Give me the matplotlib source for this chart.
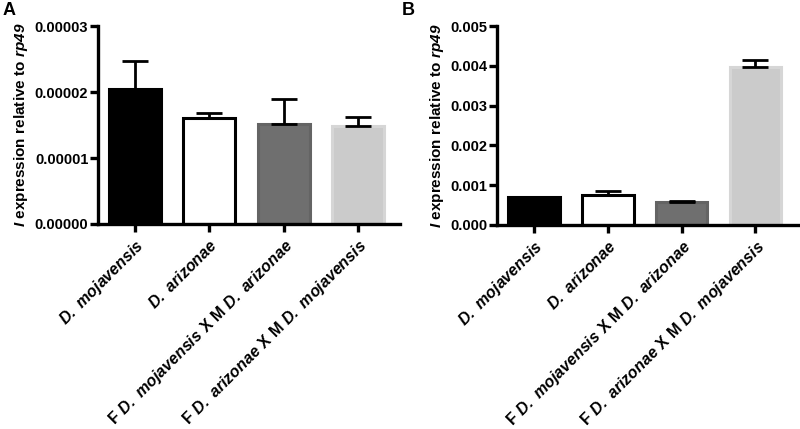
import matplotlib
matplotlib.use("Agg")
import matplotlib.pyplot as plt

plt.rcParams["font.family"] = ["Liberation Sans", "DejaVu Sans"]
plt.rcParams["font.weight"] = "bold"
plt.rcParams["mathtext.fontset"] = "custom"
plt.rcParams["mathtext.rm"] = "Liberation Sans:bold"
plt.rcParams["mathtext.bf"] = "Liberation Sans:bold"
plt.rcParams["mathtext.it"] = "Liberation Sans:bold:italic"
plt.rcParams["mathtext.bfit"] = "Liberation Sans:bold:italic"

# ---------------------------------------------------------------------------
# Data
# ---------------------------------------------------------------------------
categories = [
    r"$\mathbfit{D.\ mojavensis}$",
    r"$\mathbfit{D.\ arizonae}$",
    r"$\mathbf{F}\ \mathbfit{D.\ mojavensis}\ \mathbf{X\ M}\ \mathbfit{D.\ arizonae}$",
    r"$\mathbf{F}\ \mathbfit{D.\ arizonae}\ \mathbf{X\ M}\ \mathbfit{D.\ mojavensis}$",
]
vals_a = [2.045e-5, 1.60e-5, 1.51e-5, 1.49e-5]
err_a = [0.42e-5, 0.08e-5, 0.39e-5, 0.13e-5]
vals_b = [0.00069, 0.00074, 0.00057, 0.00396]
err_b = [0.0, 0.00012, 0.00002, 0.00020]

yticks_a = [0.0, 1e-5, 2e-5, 3e-5]
yticklabels_a = ["0.00000", "0.00001", "0.00002", "0.00003"]
yticks_b = [0.0, 0.001, 0.002, 0.003, 0.004, 0.005]
yticklabels_b = ["0.000", "0.001", "0.002", "0.003", "0.004", "0.005"]

face_colors = ["#000000", "#ffffff", "#6f6f6f", "#cbcbcb"]
edge_colors = ["#000000", "#000000", "#646464", "#d6d6d6"]
ylabel = r"$\mathbfit{I}\ \mathbf{expression\ relative\ to}\ \mathbfit{rp49}$"


def draw_panel(ax, vals, errs, yticks, yticklabels, ymax):
    x = list(range(len(vals)))
    ax.bar(x, vals, width=0.7, color=face_colors, edgecolor=edge_colors,
           linewidth=2.2, zorder=2)
    for xi, v, e in zip(x, vals, errs):
        if e > 0:
            ax.errorbar(xi, v, yerr=[[0], [e]], fmt="none", ecolor="black",
                        elinewidth=2.0, capsize=9.5, capthick=2.0, zorder=3)
    ax.set_xlim(-0.5, 3.57)
    ax.set_ylim(0, ymax)
    ax.set_yticks(yticks)
    ax.set_yticklabels(yticklabels, fontsize=10.5, fontweight="bold")
    ax.set_xticks(x)
    ax.set_xticklabels(categories, rotation=45, ha="right", rotation_mode="anchor",
                       fontsize=11.5)
    ax.spines["top"].set_visible(False)
    ax.spines["right"].set_visible(False)
    ax.spines["left"].set_linewidth(2.4)
    ax.spines["bottom"].set_linewidth(2.4)
    ax.tick_params(axis="both", direction="out", length=6, width=2.4, pad=1)
    ax.tick_params(axis="x", pad=3)
    ax.set_ylabel(ylabel, fontsize=11, labelpad=3)


fig = plt.figure(figsize=(8.0, 4.29), dpi=100)
ax_a = fig.add_axes([0.1225, 0.478, 0.378, 0.461])
ax_b = fig.add_axes([0.621, 0.476, 0.376, 0.463])

draw_panel(ax_a, vals_a, err_a, yticks_a, yticklabels_a, 3e-5)
draw_panel(ax_b, vals_b, err_b, yticks_b, yticklabels_b, 0.005)

fig.text(0.003, 0.995, "A", fontsize=13, fontweight="bold", va="top", ha="left")
fig.text(0.502, 0.995, "B", fontsize=13, fontweight="bold", va="top", ha="left")

fig.savefig("out.png", dpi=100)
